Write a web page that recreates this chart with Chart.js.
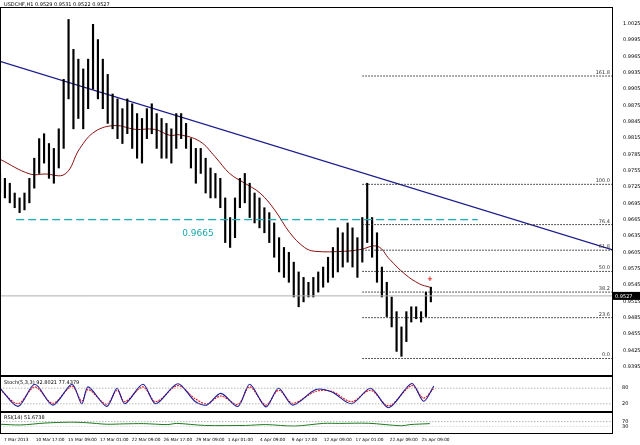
<!DOCTYPE html>
<html><head><meta charset="utf-8">
<script src="https://cdn.jsdelivr.net/npm/chart.js@4/dist/chart.umd.min.js"></script>
<style>
body{margin:0;background:#fff;width:640px;height:445px;overflow:hidden;font-family:"DejaVu Sans",sans-serif;position:relative}
canvas{position:absolute;left:0}
.t{position:absolute;font-size:5px;color:#000;white-space:nowrap}
.tt{position:absolute;font-size:4.3px;color:#000;white-space:nowrap}
.frame{position:absolute;border:1px solid #000;box-sizing:border-box;pointer-events:none}
</style></head><body>
<canvas id="main" width="640" height="377" style="top:0px"></canvas>
<canvas id="stoch" width="640" height="37" style="top:377px"></canvas>
<canvas id="rsi" width="640" height="22" style="top:413px"></canvas>
<div class="frame" style="left:0;top:7px;width:613px;height:369px"></div>
<div class="frame" style="left:0;top:375px;width:613px;height:38px;border-width:2px 1px 1px 1px"></div>
<div class="frame" style="left:0;top:411px;width:613px;height:23px;border-width:2px 1px 1px 1px"></div>
<div class="t" style="left:4px;top:1px;font-size:5px">USDCHF,H1 0.9529 0.9531 0.9522 0.9527</div>
<div class="t" style="left:4px;top:379px">Stoch(5,3,3) 92.8021 77.4379</div>
<div class="t" style="left:4px;top:414px">RSI(14) 51.6738</div>
<div id="times"></div>
<script>
// ---- data ----
const barHigh=[.9750,.9741,.9732,.9714,.9705,.9714,.9741,.9778,.9814,.9823,.9805,.9796,.9832,.9923,1.0033,.9978,.9960,.9942,.9960,1.0024,.9996,.9960,.9932,.9896,.9887,.9869,.9887,.9878,.9860,.9851,.9869,.9878,.9860,.9851,.9842,.9832,.9860,.9860,.9842,.9814,.9796,.9796,.9778,.9760,.9750,.9741,.9705,.9669,.9705,.9741,.9750,.9732,.9714,.9705,.9687,.9678,.9659,.9632,.9614,.9605,.9587,.9569,.9559,.9550,.9559,.9569,.9578,.9596,.9614,.9650,.9641,.9659,.9650,.9632,.9669,.9732,.9669,.9641,.9578,.9550,.9523,.9496,.9468,.9496,.9505,.9505,.9496,.9532,.9541];
const barLow=[.9714,.9705,.9696,.9687,.9678,.9683,.9696,.9723,.9750,.9769,.9741,.9732,.9760,.9796,.9887,.9832,.9851,.9832,.9869,.9905,.9887,.9869,.9842,.9832,.9814,.9805,.9823,.9796,.9778,.9769,.9814,.9823,.9796,.9778,.9778,.9769,.9796,.9814,.9796,.9760,.9732,.9750,.9714,.9705,.9705,.9687,.9623,.9614,.9632,.9687,.9696,.9669,.9659,.9650,.9641,.9623,.9596,.9569,.9559,.9550,.9523,.9505,.9514,.9523,.9523,.9532,.9541,.9550,.9559,.9569,.9578,.9587,.9578,.9559,.9587,.9623,.9596,.9550,.9523,.9487,.9468,.9423,.9414,.9441,.9477,.9483,.9477,.9487,.9514];
const maX=[0,6.1,9.2,13.3,16.3,19.4,23.5,27.6,31.6,34.7,36.7,40.8,43.9,46.9,50,53.1,56.1,59.2,62.2,64.3,70.4,73.5,77.1,79.6,82.7,85.7,87.8];
const maY=[.9776,.9749,.9749,.9749,.9796,.9827,.9838,.9831,.9831,.9820,.9821,.9809,.9781,.9750,.9732,.9714,.9683,.9641,.9614,.9607,.9607,.9610,.9616,.9592,.9565,.9547,.9541];
const trendX=[0,125], trendY=[.9956,.9610];
const levelX=[3.3,97.6], levelY=.9665, levelLabel="0.9665";
const fibX=[74,125];
const fibLevels=["161.8","100.0","76.4","61.8","50.0","38.2","23.6","0.0"];
const fibPrices=[.9929,.9730,.9656,.9609,.9570,.9532,.9485,.9410];
const lastPrice=.9525, lastLabel="0.9527";
const priceTicks=["0.9395","0.9425","0.9455","0.9485","0.9515","0.9545","0.9575","0.9605","0.9635","0.9665","0.9695","0.9725","0.9755","0.9785","0.9815","0.9845","0.9875","0.9905","0.9935","0.9965","0.9995","1.0025"];
const stochX=[0,3.7,7.1,10.8,14.7,16.7,18,21.8,23.9,25.5,29.2,31.8,36.3,39.8,42.2,45.1,48.6,51,54.3,56.9,59.8,64.5,67.8,71.8,75.7,79.4,84.1,86.5,88.6];
const stochMain=[80,10,95,15,95,20,85,10,80,20,95,20,97,30,15,60,10,95,8,80,15,75,65,20,80,5,98,30,88];
const stochSignal=[75,20,85,22,88,30,75,18,72,28,85,28,90,40,20,50,18,85,15,72,22,68,68,28,72,12,90,42,80];
const rsiX=[0,4.2,9.2,14.2,17.6,21.8,25.2,29.3,34.3,36,41.8,50.2,54.3,60.2,66.1,69.4,75.3,82,83.7,87.8];
const rsiY=[48,42,58,65,61,48,51,53,45,55,38,38,45,33,55,55,56,35,45,53];
const timeLabels=["7 Mar 2013","10 Mar 17:00","15 Mar 09:00","17 Mar 01:00","22 Mar 09:00","26 Mar 17:00","29 Mar 09:00","1 Apr 01:00","4 Apr 09:00","9 Apr 17:00","12 Apr 09:00","17 Apr 01:00","22 Apr 09:00","25 Apr 09:00"];
const timeIdx=[0.4,6.9,13.5,20,26.5,33,39.6,46.1,52.7,59.2,65.7,72.2,79.2,85.7];
// ---- charts ----
Chart.defaults.animation=false;
Chart.defaults.font.family="DejaVu Sans";
const XMAX=125;
const rightW=28;
function xScale(){return {type:'linear',min:0,max:XMAX,display:false,offset:false};}
function fitY(s){s.width=rightW;}
const pts=(xs,ys)=>xs.map((x,i)=>({x,y:ys[i]}));
const fibDs=fibPrices.map(p=>({type:'line',data:pts(fibX,[p,p]),borderColor:'#222',borderWidth:1,borderDash:[1.5,1.5],pointRadius:0}));
const textPlugin={id:'txt',afterDatasetsDraw(c){
  const ctx=c.ctx,x=c.scales.x,y=c.scales.y;ctx.save();
  ctx.font='5px DejaVu Sans';ctx.fillStyle='#333';ctx.textAlign='right';
  fibLevels.forEach((l,i)=>ctx.fillText(l,x.right-2,y.getPixelForValue(fibPrices[i])-2));
  ctx.font='9px DejaVu Sans';ctx.fillStyle='#1aa8b0';ctx.textAlign='left';
  ctx.fillText(levelLabel,x.getPixelForValue(37.2),y.getPixelForValue(levelY)+16);
  ctx.fillStyle='#e00000';ctx.font='bold 7px DejaVu Sans';ctx.textAlign='center';
  ctx.fillText('+',x.getPixelForValue(maX[maX.length-1]),y.getPixelForValue(.9552));
  const py=y.getPixelForValue(lastPrice);
  ctx.fillStyle='#000';ctx.fillRect(x.right+1,py-4,27,8);
  ctx.fillStyle='#fff';ctx.font='5px DejaVu Sans';ctx.textAlign='left';ctx.fillText(lastLabel,x.right+3,py+2);
  ctx.restore();}};
new Chart(document.getElementById('main'),{
  data:{datasets:[
    {type:'line',data:pts([0,XMAX],[lastPrice,lastPrice]),borderColor:'#b0b0b0',borderWidth:1,pointRadius:0},
    ...fibDs,
    {type:'line',data:pts(levelX,[levelY,levelY]),borderColor:'#12b0b8',borderWidth:1.3,borderDash:[8,4],pointRadius:0},
    {type:'bar',data:barHigh.map((h,i)=>({x:i,y:[barLow[i],h]})),backgroundColor:'#000',barThickness:1.5},
    {type:'line',data:pts(maX,maY),borderColor:'#8b1010',borderWidth:1,pointRadius:0,tension:0.4},
    {type:'line',data:pts(trendX,trendY),borderColor:'#1a1a8c',borderWidth:1.3,pointRadius:0}
  ]},
  options:{responsive:false,devicePixelRatio:1,layout:{padding:{top:8,bottom:1,left:0}},
    plugins:{legend:{display:false},tooltip:{enabled:false}},
    scales:{x:xScale(),y:{position:'right',min:.9387,max:1.0054,afterFit:fitY,
      afterBuildTicks(s){s.ticks=priceTicks.map(v=>({value:+v}));},
      grid:{display:false},border:{display:false},
      ticks:{font:{size:5},color:'#000',padding:3,callback:v=>v.toFixed(4)}}}},
  plugins:[textPlugin]});
function oscY(min,max,tk){return {position:'right',min,max,afterFit:fitY,
  afterBuildTicks(s){s.ticks=tk.map(v=>({value:v}));},grid:{display:false},border:{display:false},
  ticks:{font:{size:5},color:'#000',padding:2}};}
new Chart(document.getElementById('stoch'),{
  data:{datasets:[
    {type:'line',data:pts([0,XMAX],[80,80]),borderColor:'#999',borderWidth:0.7,borderDash:[1.5,1.5],pointRadius:0},
    {type:'line',data:pts([0,XMAX],[20,20]),borderColor:'#999',borderWidth:0.7,borderDash:[1.5,1.5],pointRadius:0},
    {type:'line',data:pts(stochX,stochMain),borderColor:'#1a1a9c',borderWidth:1.1,pointRadius:0,tension:0.3},
    {type:'line',data:pts(stochX,stochSignal),borderColor:'#f01010',borderWidth:1.1,borderDash:[2,1],pointRadius:0,tension:0.3}
  ]},
  options:{responsive:false,devicePixelRatio:1,layout:{padding:{top:6,bottom:3}},
    plugins:{legend:{display:false},tooltip:{enabled:false}},
    scales:{x:xScale(),y:oscY(0,100,[80,20])}}});
new Chart(document.getElementById('rsi'),{
  data:{datasets:[
    {type:'line',data:pts([0,XMAX],[70,70]),borderColor:'#999',borderWidth:0.7,borderDash:[1.5,1.5],pointRadius:0},
    {type:'line',data:pts([0,XMAX],[30,30]),borderColor:'#ccc',borderWidth:0.7,borderDash:[1.5,1.5],pointRadius:0},
    {type:'line',data:pts(rsiX,rsiY),borderColor:'#1a7a1a',borderWidth:1,pointRadius:0,tension:0.3}
  ]},
  options:{responsive:false,devicePixelRatio:1,layout:{padding:{top:3,bottom:1}},
    plugins:{legend:{display:false},tooltip:{enabled:false}},
    scales:{x:xScale(),y:oscY(0,100,[70,30])}}});
const tdiv=document.getElementById('times');
timeLabels.forEach((l,i)=>{const d=document.createElement('div');d.className='tt';
  d.style.left=(timeIdx[i]*612/XMAX+2)+'px';d.style.top='437px';d.textContent=l;tdiv.appendChild(d);});
</script></body></html>
